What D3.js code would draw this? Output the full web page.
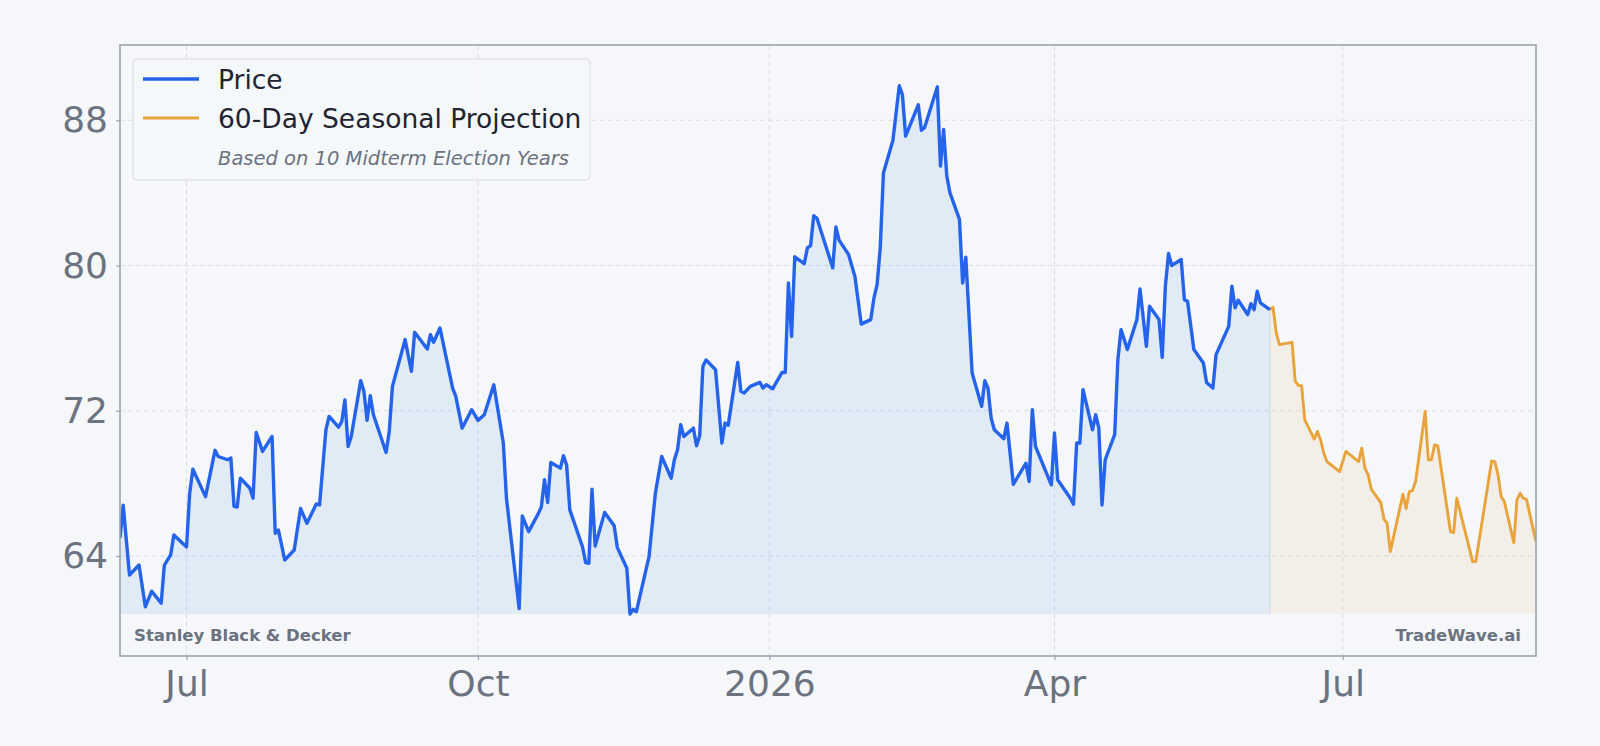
<!DOCTYPE html>
<html>
<head>
<meta charset="utf-8">
<title>Stanley Black &amp; Decker - price and seasonal projection</title>
<script src="https://cdn.jsdelivr.net/npm/d3@7"></script>
<style>
  html, body { margin: 0; padding: 0; background: #f5f7fa; }
  text { font-family: "DejaVu Sans", sans-serif; }
  .grid line { stroke: #dadee4; stroke-width: 1; stroke-dasharray: 5,3; }
  .axis path { display: none; }
  .axis line { stroke: #9ca3af; stroke-width: 1.2; }
  .axis text { fill: #6b7280; font-size: 36px; }
</style>
</head>
<body>
<script>
// daily closes (turning points)
const price = [
  ["2025-06-10", 65.0], ["2025-06-11", 66.8], ["2025-06-13", 62.95], ["2025-06-16", 63.5],
  ["2025-06-18", 61.2], ["2025-06-20", 62.06], ["2025-06-23", 61.4], ["2025-06-24", 63.5],
  ["2025-06-26", 64.06], ["2025-06-27", 65.16], ["2025-07-01", 64.5], ["2025-07-02", 67.45],
  ["2025-07-03", 68.78], ["2025-07-07", 67.27], ["2025-07-10", 69.82], ["2025-07-11", 69.48],
  ["2025-07-14", 69.3], ["2025-07-15", 69.39], ["2025-07-16", 66.73], ["2025-07-17", 66.7],
  ["2025-07-18", 68.29], ["2025-07-21", 67.73], ["2025-07-22", 67.18], ["2025-07-23", 70.8],
  ["2025-07-25", 69.76], ["2025-07-28", 70.58], ["2025-07-29", 65.25], ["2025-07-30", 65.43],
  ["2025-08-01", 63.78], ["2025-08-04", 64.33], ["2025-08-06", 66.62], ["2025-08-08", 65.8],
  ["2025-08-11", 66.87], ["2025-08-12", 66.81], ["2025-08-14", 70.95], ["2025-08-15", 71.69],
  ["2025-08-18", 71.1], ["2025-08-19", 71.4], ["2025-08-20", 72.6], ["2025-08-21", 70.03],
  ["2025-08-22", 70.58], ["2025-08-25", 73.66], ["2025-08-26", 73.07], ["2025-08-27", 71.47],
  ["2025-08-28", 72.83], ["2025-08-29", 71.78], ["2025-09-02", 69.7], ["2025-09-03", 70.86],
  ["2025-09-04", 73.34], ["2025-09-08", 75.92], ["2025-09-10", 74.17], ["2025-09-11", 76.32],
  ["2025-09-15", 75.4], ["2025-09-16", 76.19], ["2025-09-17", 75.77], ["2025-09-19", 76.56],
  ["2025-09-23", 73.25], ["2025-09-24", 72.79], ["2025-09-26", 71.04], ["2025-09-29", 72.06],
  ["2025-10-01", 71.47], ["2025-10-03", 71.78], ["2025-10-06", 73.43], ["2025-10-09", 70.22],
  ["2025-10-10", 67.18], ["2025-10-14", 61.1], ["2025-10-15", 66.2], ["2025-10-17", 65.34],
  ["2025-10-20", 66.32], ["2025-10-21", 66.7], ["2025-10-22", 68.2], ["2025-10-23", 66.94],
  ["2025-10-24", 69.15], ["2025-10-27", 68.84], ["2025-10-28", 69.52], ["2025-10-29", 69.0],
  ["2025-10-30", 66.54], ["2025-11-03", 64.51], ["2025-11-04", 63.63], ["2025-11-05", 63.6],
  ["2025-11-06", 67.68], ["2025-11-07", 64.55], ["2025-11-10", 66.4], ["2025-11-13", 65.66],
  ["2025-11-14", 64.46], ["2025-11-17", 63.32], ["2025-11-18", 60.8], ["2025-11-19", 61.06],
  ["2025-11-20", 60.93], ["2025-11-24", 63.96], ["2025-11-26", 67.45], ["2025-11-28", 69.48],
  ["2025-12-01", 68.28], ["2025-12-02", 69.3], ["2025-12-03", 69.85], ["2025-12-04", 71.23],
  ["2025-12-05", 70.58], ["2025-12-08", 71.04], ["2025-12-09", 70.07], ["2025-12-10", 70.62],
  ["2025-12-11", 74.44], ["2025-12-12", 74.8], ["2025-12-15", 74.26], ["2025-12-17", 70.22],
  ["2025-12-18", 71.32], ["2025-12-19", 71.2], ["2025-12-22", 74.66], ["2025-12-23", 73.07],
  ["2025-12-24", 72.98], ["2025-12-26", 73.34], ["2025-12-29", 73.56], ["2025-12-30", 73.25],
  ["2025-12-31", 73.43], ["2026-01-02", 73.21], ["2026-01-05", 74.11], ["2026-01-06", 74.11],
  ["2026-01-07", 79.04], ["2026-01-08", 76.1], ["2026-01-09", 80.48], ["2026-01-12", 80.1],
  ["2026-01-13", 80.97], ["2026-01-14", 81.1], ["2026-01-15", 82.74], ["2026-01-16", 82.6],
  ["2026-01-21", 79.87], ["2026-01-22", 82.12], ["2026-01-23", 81.4], ["2026-01-26", 80.6],
  ["2026-01-28", 79.4], ["2026-01-30", 76.77], ["2026-02-02", 77.02], ["2026-02-03", 78.2],
  ["2026-02-04", 78.95], ["2026-02-05", 81.0], ["2026-02-06", 85.1], ["2026-02-09", 86.9],
  ["2026-02-11", 89.9], ["2026-02-12", 89.4], ["2026-02-13", 87.13], ["2026-02-17", 88.85],
  ["2026-02-18", 87.45], ["2026-02-19", 87.6], ["2026-02-23", 89.84], ["2026-02-24", 85.48],
  ["2026-02-25", 87.5], ["2026-02-26", 84.93], ["2026-02-27", 84.0], ["2026-03-02", 82.54],
  ["2026-03-03", 79.04], ["2026-03-04", 80.46], ["2026-03-06", 74.08], ["2026-03-09", 72.24],
  ["2026-03-10", 73.66], ["2026-03-11", 73.25], ["2026-03-12", 71.6], ["2026-03-13", 70.95],
  ["2026-03-16", 70.46], ["2026-03-17", 71.32], ["2026-03-19", 67.95], ["2026-03-23", 69.11],
  ["2026-03-24", 68.1], ["2026-03-25", 72.06], ["2026-03-26", 70.03], ["2026-03-31", 67.92],
  ["2026-04-01", 70.77], ["2026-04-02", 68.2], ["2026-04-06", 67.18], ["2026-04-07", 66.85],
  ["2026-04-08", 70.22], ["2026-04-09", 70.22], ["2026-04-10", 73.16], ["2026-04-13", 70.95],
  ["2026-04-14", 71.78], ["2026-04-15", 71.04], ["2026-04-16", 66.81], ["2026-04-17", 69.3],
  ["2026-04-20", 70.68], ["2026-04-21", 74.81], ["2026-04-22", 76.47], ["2026-04-24", 75.37],
  ["2026-04-27", 77.02], ["2026-04-28", 78.71], ["2026-04-30", 75.55], ["2026-05-01", 77.76],
  ["2026-05-04", 77.02], ["2026-05-05", 74.94], ["2026-05-06", 78.86], ["2026-05-07", 80.66],
  ["2026-05-08", 80.0], ["2026-05-11", 80.33], ["2026-05-12", 78.12], ["2026-05-13", 78.03],
  ["2026-05-15", 75.37], ["2026-05-18", 74.63], ["2026-05-19", 73.56], ["2026-05-21", 73.25],
  ["2026-05-22", 75.09], ["2026-05-26", 76.65], ["2026-05-27", 78.86], ["2026-05-28", 77.67],
  ["2026-05-29", 78.09], ["2026-06-01", 77.3], ["2026-06-02", 77.9], ["2026-06-03", 77.57],
  ["2026-06-04", 78.58], ["2026-06-05", 77.94], ["2026-06-08", 77.57]
];

// 60-day seasonal projection, starts at the last close
const projection = [
  ["2026-06-08", 77.57], ["2026-06-09", 77.7], ["2026-06-10", 76.29], ["2026-06-11", 75.64],
  ["2026-06-15", 75.77], ["2026-06-16", 73.62], ["2026-06-17", 73.4], ["2026-06-18", 73.38],
  ["2026-06-19", 71.5], ["2026-06-22", 70.44], ["2026-06-23", 70.86], ["2026-06-24", 70.4],
  ["2026-06-25", 69.66], ["2026-06-26", 69.2], ["2026-06-30", 68.65], ["2026-07-02", 69.76],
  ["2026-07-06", 69.2], ["2026-07-07", 69.94], ["2026-07-08", 68.84], ["2026-07-09", 68.48],
  ["2026-07-10", 67.68], ["2026-07-13", 66.94], ["2026-07-14", 66.03], ["2026-07-15", 65.8],
  ["2026-07-16", 64.24], ["2026-07-20", 67.4], ["2026-07-21", 66.62], ["2026-07-22", 67.54],
  ["2026-07-23", 67.6], ["2026-07-24", 68.1], ["2026-07-27", 71.96], ["2026-07-28", 69.3],
  ["2026-07-29", 69.3], ["2026-07-30", 70.12], ["2026-07-31", 70.07], ["2026-08-04", 65.34],
  ["2026-08-05", 65.28], ["2026-08-06", 67.18], ["2026-08-11", 63.69], ["2026-08-12", 63.69],
  ["2026-08-17", 69.23], ["2026-08-18", 69.2], ["2026-08-19", 68.48], ["2026-08-20", 67.27],
  ["2026-08-21", 67.0], ["2026-08-24", 64.73], ["2026-08-25", 67.1], ["2026-08-26", 67.45],
  ["2026-08-27", 67.18], ["2026-08-28", 67.12], ["2026-08-31", 64.79]
];

const xTickDates = ["2025-07-01", "2025-10-01", "2026-01-01", "2026-04-01", "2026-07-01"];
const xTickLabels = ["Jul", "Oct", "2026", "Apr", "Jul"];
const yTicks = [64, 72, 80, 88];

const legendItems = ["Price", "60-Day Seasonal Projection"];
const legendNote = "Based on 10 Midterm Election Years";
const tickerName = "Stanley Black & Decker";
const brandName = "TradeWave.ai";

const blue = "#2563eb", orange = "#e8a33a", blueFill = "#4a90d9";
const W = 1600, H = 746;
const m = {left: 120, right: 64, top: 45, bottom: 90};
const pw = W - m.left - m.right, ph = H - m.top - m.bottom;

const parse = d3.timeParse("%Y-%m-%d");
const pts = price.map(d => ({date: parse(d[0]), v: d[1]}));
const proj = projection.map(d => ({date: parse(d[0]), v: d[1]}));
const all = pts.concat(proj);

const vMin = d3.min(all, d => d.v), vMax = d3.max(all, d => d.v);

const x = d3.scaleTime()
  .domain([pts[0].date, proj[proj.length - 1].date])
  .range([0, pw]);
const y = d3.scaleLinear()
  .domain([vMin * 0.962, vMax * 1.025])
  .range([ph, 0]);

const svg = d3.select("body").append("svg")
  .attr("width", W).attr("height", H)
  .style("display", "block");

svg.append("rect").attr("width", W).attr("height", H).attr("fill", "#f5f7fa");

const g = svg.append("g").attr("transform", "translate(" + m.left + "," + m.top + ")");

g.append("clipPath").attr("id", "clip")
  .append("rect").attr("width", pw).attr("height", ph);

// grid
const grid = g.append("g").attr("class", "grid");
grid.selectAll(".gx").data(xTickDates).enter().append("line")
  .attr("x1", d => x(parse(d))).attr("x2", d => x(parse(d)))
  .attr("y1", 0).attr("y2", ph);
grid.selectAll(".gy").data(yTicks).enter().append("line")
  .attr("x1", 0).attr("x2", pw)
  .attr("y1", d => y(d)).attr("y2", d => y(d));

const plot = g.append("g").attr("clip-path", "url(#clip)");

const area = d3.area()
  .x(d => x(d.date))
  .y0(y(vMin))
  .y1(d => y(d.v));
const line = d3.line()
  .x(d => x(d.date))
  .y(d => y(d.v));

plot.append("path").datum(pts).attr("d", area)
  .attr("fill", blueFill).attr("fill-opacity", 0.12);
plot.append("path").datum(proj).attr("d", area)
  .attr("fill", orange).attr("fill-opacity", 0.09);

// boundary between history and projection
const splitX = x(proj[0].date);
plot.append("line")
  .attr("x1", splitX).attr("x2", splitX)
  .attr("y1", y(proj[0].v)).attr("y2", y(vMin))
  .attr("stroke", "#c9cdd3").attr("stroke-width", 1).attr("stroke-opacity", 0.7);

plot.append("path").datum(proj).attr("d", line)
  .attr("fill", "none").attr("stroke", orange).attr("stroke-width", 2.9)
  .attr("stroke-linejoin", "round");
plot.append("path").datum(pts).attr("d", line)
  .attr("fill", "none").attr("stroke", blue).attr("stroke-width", 3.4)
  .attr("stroke-linejoin", "round");

// frame
g.append("rect").attr("width", pw).attr("height", ph)
  .attr("fill", "none").attr("stroke", "#9ca3af").attr("stroke-width", 1.6);

// axes
g.append("g").attr("class", "axis")
  .call(d3.axisLeft(y).tickValues(yTicks).tickSize(4).tickPadding(8).tickFormat(d3.format("d")));

g.append("g").attr("class", "axis")
  .attr("transform", "translate(0," + ph + ")")
  .call(d3.axisBottom(x).tickValues(xTickDates.map(parse)).tickSize(4).tickPadding(10)
    .tickFormat((d, i) => xTickLabels[i]));

// legend
const lg = g.append("g").attr("transform", "translate(13,14)");
lg.append("rect").attr("width", 457).attr("height", 121).attr("rx", 4)
  .attr("fill", "#f5f7fa").attr("fill-opacity", 0.9)
  .attr("stroke", "#d6dae0").attr("stroke-width", 1);
[blue, orange].forEach((c, i) => {
  const yy = 20 + i * 39;
  lg.append("line").attr("x1", 10).attr("x2", 66).attr("y1", yy).attr("y2", yy)
    .attr("stroke", c).attr("stroke-width", i === 0 ? 3.4 : 2.9);
  lg.append("text").attr("x", 85).attr("y", yy).attr("dy", "0.36em")
    .attr("font-size", "26.5px").attr("fill", "#1f2430").text(legendItems[i]);
});
lg.append("text").attr("x", 85).attr("y", 106)
  .attr("font-size", "19.5px").attr("font-style", "italic").attr("fill", "#6b7280")
  .text(legendNote);

// watermarks
g.append("text").attr("x", 14).attr("y", ph - 15)
  .attr("font-size", "16.5px").attr("font-weight", "bold").attr("fill", "#6b7280")
  .text(tickerName);
g.append("text").attr("x", pw - 15).attr("y", ph - 15).attr("text-anchor", "end")
  .attr("font-size", "16.5px").attr("font-weight", "bold").attr("fill", "#6b7280")
  .text(brandName);
</script>
</body>
</html>
